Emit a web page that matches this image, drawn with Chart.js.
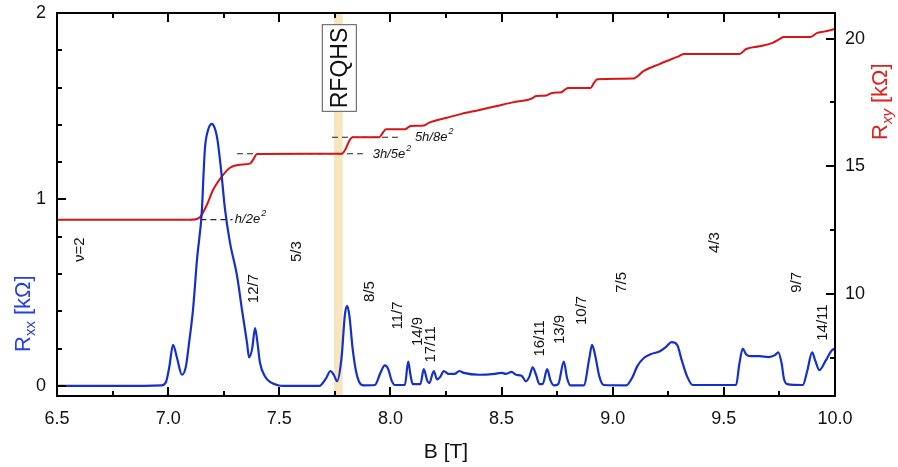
<!DOCTYPE html>
<html><head><meta charset="utf-8">
<script src="https://cdn.jsdelivr.net/npm/chart.js@4.4.0/dist/chart.umd.min.js"></script>
<style>html,body{margin:0;padding:0;background:#fff;}canvas{display:block;}</style>
</head><body>
<canvas id="c" width="898" height="467"></canvas>
<script>
// ---- data ----
const rxxB = [6.50,6.80,6.97,6.99,7.005,7.022,7.04,7.062,7.080,7.094,7.112,7.130,7.152,7.159,7.166,7.179,7.188,7.197,7.205,7.213,7.222,7.238,7.256,7.278,7.310,7.332,7.355,7.364,7.378,7.391,7.40,7.413,7.436,7.46,7.49,7.52,7.68,7.71,7.73,7.745,7.76,7.78,7.795,7.805,7.815,7.83,7.845,7.86,7.88,7.93,7.955,7.975,7.99,8.005,8.02,8.065,8.08,8.09,8.10,8.135,8.15,8.165,8.175,8.195,8.21,8.225,8.24,8.26,8.29,8.31,8.33,8.40,8.47,8.50,8.52,8.545,8.565,8.59,8.61,8.625,8.64,8.655,8.67,8.685,8.705,8.72,8.735,8.755,8.78,8.795,8.81,8.87,8.895,8.907,8.92,8.94,8.96,9.06,9.09,9.11,9.14,9.17,9.21,9.24,9.265,9.29,9.31,9.335,9.36,9.555,9.57,9.585,9.60,9.62,9.66,9.70,9.73,9.745,9.76,9.77,9.785,9.855,9.875,9.897,9.91,9.93,9.96,9.985,10.0];
const rxxVal = [0,0,0.003,0.02,0.10,0.22,0.15,0.06,0.105,0.23,0.41,0.68,0.945,1.13,1.28,1.37,1.398,1.405,1.395,1.37,1.32,1.16,0.945,0.77,0.59,0.41,0.23,0.153,0.20,0.31,0.25,0.126,0.05,0.02,0.005,0,0,0.04,0.08,0.06,0.025,0.15,0.38,0.43,0.38,0.2,0.08,0.02,0.003,0.005,0.07,0.11,0.09,0.03,0.005,0.005,0.13,0.06,0.01,0.01,0.09,0.03,0.015,0.08,0.035,0.05,0.08,0.065,0.065,0.08,0.07,0.06,0.065,0.07,0.065,0.075,0.06,0.055,0.025,0.05,0.1,0.06,0.01,0.01,0.09,0.03,0.003,0.01,0.13,0.04,0.003,0.003,0.15,0.22,0.17,0.05,0.005,0.003,0.05,0.105,0.15,0.17,0.185,0.21,0.235,0.22,0.14,0.05,0.005,0.005,0.12,0.2,0.17,0.16,0.16,0.155,0.165,0.18,0.12,0.04,0.01,0.005,0.08,0.18,0.14,0.085,0.14,0.19,0.2];

const rxyB = [6.5,7.10,7.112,7.143,7.175,7.202,7.242,7.278,7.323,7.368,7.382,7.40,7.78,7.80,7.815,7.83,7.95,7.965,7.98,8.065,8.08,8.09,8.15,8.17,8.25,8.32,8.40,8.48,8.55,8.63,8.645,8.655,8.70,8.72,8.735,8.77,8.785,8.80,8.90,8.915,8.93,9.09,9.14,9.21,9.29,9.32,9.57,9.60,9.66,9.72,9.75,9.77,9.89,9.92,9.95,10.0];
const rxyVal = [12.906,12.906,12.91,13.0,13.5,14.07,14.6,14.94,15.06,15.1,15.25,15.48,15.487,15.7,16.0,16.133,16.133,16.3,16.45,16.45,16.52,16.57,16.59,16.69,16.89,17.05,17.2,17.36,17.5,17.63,17.7,17.75,17.77,17.85,17.88,17.9,18.0,18.06,18.06,18.25,18.41,18.43,18.73,19.0,19.28,19.39,19.39,19.59,19.7,19.83,19.98,20.06,20.06,20.22,20.27,20.37];

// quantized Hall plateaus (kOhm) and extent of dashed guides (T)
const plateauNames = ['h/2e', '3h/5e', '5h/8e'];
const plateauVal = [12.906, 15.487, 16.133];
const plateauFrom = [7.10, 7.31, 7.737];
const plateauTo = [7.29, 7.876, 8.043];
const plateauTextB = [7.30, 7.92, 8.11];
const plateauTextY = [12.906, 15.45, 16.13];

// filling factor labels (B, Rxx position)
const fracLabels = ['\u03bd=2','12/7','5/3','8/5','11/7','14/9','17/11','16/11','13/9','10/7','7/5','4/3','9/7','14/11'];
const fracB = [6.603,7.386,7.580,7.908,8.034,8.124,8.182,8.673,8.763,8.862,9.042,9.460,9.829,9.946];
const fracY = [0.731,0.522,0.72,0.506,0.378,0.292,0.223,0.255,0.303,0.405,0.555,0.769,0.555,0.34];

const bandRange = [7.746, 7.785];
const boxRange = [1.47, 1.94];

const xTicks = [6.5,6.75,7.0,7.25,7.5,7.75,8.0,8.25,8.5,8.75,9.0,9.25,9.5,9.75,10.0];
const xMajor = [6.5,7.0,7.5,8.0,8.5,9.0,9.5,10.0];
const yTicks = [0,0.2,0.4,0.6,0.8,1.0,1.2,1.4,1.6,1.8,2.0];
const yMajor = [0,1,2];
const y1Ticks = [7.5,10,12.5,15,17.5,20];
const y1Major = [10,15,20];

// ---- chart ----
const FONT = '"Liberation Sans", Arial, sans-serif';
const BLUE = '#1530c8', RED = '#d81414';

function setTicks(arr){ return (s)=>{ s.ticks = arr.map(v=>({value:v})); }; }

const overlay = {
  id:'overlay',
  beforeDraw(chart){
    const c = chart.ctx; c.save(); c.fillStyle='#fff'; c.fillRect(0,0,chart.width,chart.height); c.restore();
  },
  beforeDatasetsDraw(chart){
    const {ctx, chartArea:a, scales:{x}} = chart;
    ctx.save();
    ctx.fillStyle = '#f6e5bd';
    const x0 = x.getPixelForValue(bandRange[0]), x1 = x.getPixelForValue(bandRange[1]);
    ctx.fillRect(x0, a.top, x1-x0, a.bottom-a.top);
    ctx.restore();
  },
  afterDatasetsDraw(chart){
    const {ctx, scales:{x,y,y1}} = chart;
    ctx.save();
    ctx.fillStyle = '#111';
    ctx.font = '15px ' + FONT;
    ctx.textAlign = 'center'; ctx.textBaseline = 'middle';
    fracLabels.forEach((t,i)=>{
      ctx.save();
      ctx.translate(x.getPixelForValue(fracB[i]), y.getPixelForValue(fracY[i]));
      ctx.rotate(-Math.PI/2);
      ctx.fillText(t,0,0);
      ctx.restore();
    });
    ctx.textAlign = 'left'; ctx.textBaseline = 'middle';
    plateauNames.forEach((t,i)=>{
      const px = x.getPixelForValue(plateauTextB[i]), py = y1.getPixelForValue(plateauTextY[i]);
      ctx.font = 'italic 13px ' + FONT;
      ctx.fillText(t, px, py);
      const w = ctx.measureText(t).width;
      ctx.font = 'italic 9px ' + FONT;
      ctx.fillText('2', px + w + 1, py - 6);
    });
    const cx = (x.getPixelForValue(bandRange[0]) + x.getPixelForValue(bandRange[1]))/2 + 1;
    const top = y.getPixelForValue(boxRange[1]), bot = y.getPixelForValue(boxRange[0]);
    ctx.fillStyle = '#fff';
    ctx.fillRect(cx-17.5, top, 35, bot-top);
    ctx.strokeStyle = '#555'; ctx.lineWidth = 1;
    ctx.strokeRect(cx-17.5+0.5, top+0.5, 34, bot-top-1);
    ctx.fillStyle = '#111';
    ctx.font = '23px ' + FONT;
    ctx.textAlign='center'; ctx.textBaseline='middle';
    ctx.save(); ctx.translate(cx+1, (top+bot)/2); ctx.rotate(-Math.PI/2); ctx.fillText('RFQHS',0,0); ctx.restore();
    ctx.restore();
  },
  afterDraw(chart){
    const {ctx, chartArea:a, scales:{x,y,y1}} = chart;
    ctx.save();
    ctx.strokeStyle = '#000'; ctx.lineWidth = 2;
    ctx.strokeRect(a.left, a.top, a.right-a.left, a.bottom-a.top);
    ctx.beginPath();
    x.ticks.forEach(t=>{
      const px = Math.round(x.getPixelForValue(t.value));
      const L = xMajor.includes(t.value) ? 9 : 5;
      ctx.moveTo(px, a.bottom); ctx.lineTo(px, a.bottom - L);
      ctx.moveTo(px, a.top); ctx.lineTo(px, a.top + L);
    });
    y.ticks.forEach(t=>{
      const py = Math.round(y.getPixelForValue(t.value));
      const L = yMajor.includes(t.value) ? 9 : 5;
      ctx.moveTo(a.left, py); ctx.lineTo(a.left + L, py);
    });
    y1.ticks.forEach(t=>{
      const py = Math.round(y1.getPixelForValue(t.value));
      const L = y1Major.includes(t.value) ? 9 : 5;
      ctx.moveTo(a.right, py); ctx.lineTo(a.right - L, py);
    });
    ctx.stroke();
    ctx.fillStyle = '#111';
    ctx.font = '21px ' + FONT;
    ctx.textAlign = 'center'; ctx.textBaseline = 'alphabetic';
    ctx.fillText('B [T]', (a.left+a.right)/2, 458);
    function vtitle(px, py, color, sub){
      ctx.save();
      ctx.translate(px, py); ctx.rotate(-Math.PI/2);
      ctx.fillStyle = color; ctx.textAlign='left'; ctx.textBaseline='alphabetic';
      ctx.font = '22px ' + FONT;
      ctx.fillText('R', 0, 0);
      let w = ctx.measureText('R').width;
      ctx.font = (sub==='xy' ? 'italic ' : '') + '15px ' + FONT;
      ctx.fillText(sub, w, 5);
      w += ctx.measureText(sub).width;
      ctx.font = '22px ' + FONT;
      ctx.fillText(' [k\u03a9]', w, 0);
      ctx.restore();
    }
    vtitle(30, 352, '#2240e6', 'xx');
    vtitle(887, 140, '#e02020', 'xy');
    ctx.restore();
  }
};

const datasets = [
  { label:'Rxx', data: rxxB.map((b,i)=>({x:b,y:rxxVal[i]})), yAxisID:'y', borderColor:BLUE, borderWidth:2.2, pointRadius:0, cubicInterpolationMode:'monotone', order:0 },
  { label:'Rxy', data: rxyB.map((b,i)=>({x:b,y:rxyVal[i]})), yAxisID:'y1', borderColor:RED, borderWidth:2, pointRadius:0, cubicInterpolationMode:'monotone', order:1 }
];
plateauVal.forEach((v,i)=>{
  datasets.push({ label:plateauNames[i], data:[{x:plateauFrom[i],y:v},{x:plateauTo[i],y:v}], yAxisID:'y1', borderColor:'#222', borderWidth:1.2, borderDash:[6,4], pointRadius:0, order:2 });
});

new Chart(document.getElementById('c'), {
  type:'line',
  data:{ datasets },
  options:{
    responsive:false, animation:false, devicePixelRatio:1,
    layout:{ padding:{ top:13, left:0, right:0, bottom:0 } },
    plugins:{ legend:{display:false}, tooltip:{enabled:false} },
    scales:{
      x:{ type:'linear', position:'bottom', min:6.5, max:10,
          afterBuildTicks:setTicks(xTicks), afterFit:(s)=>{ s.height = 71; s.paddingLeft = 0; s.paddingRight = 0; },
          grid:{display:false, drawTicks:false}, border:{display:false},
          ticks:{ autoSkip:false, maxRotation:0, padding:12, color:'#111', font:{family:FONT,size:18},
                  callback:(v)=> xMajor.includes(v) ? v.toFixed(1) : '' } },
      y:{ type:'linear', position:'left', min:-0.054, max:2.0,
          afterBuildTicks:setTicks(yTicks), afterFit:(s)=>{ s.width = 57; s.paddingTop = 0; s.paddingBottom = 0; },
          grid:{display:false, drawTicks:false}, border:{display:false},
          ticks:{ autoSkip:false, padding:11, color:'#111', font:{family:FONT,size:18},
                  callback:(v)=> yMajor.includes(v) ? String(v) : '' } },
      y1:{ type:'linear', position:'right', min:6.0, max:21.0,
          afterBuildTicks:setTicks(y1Ticks), afterFit:(s)=>{ s.width = 63; s.paddingTop = 0; s.paddingBottom = 0; },
          grid:{display:false, drawTicks:false}, border:{display:false},
          ticks:{ autoSkip:false, padding:10, color:'#111', font:{family:FONT,size:18},
                  callback:(v)=> y1Major.includes(v) ? String(v) : '' } }
    }
  },
  plugins:[overlay]
});
</script>
</body></html>
